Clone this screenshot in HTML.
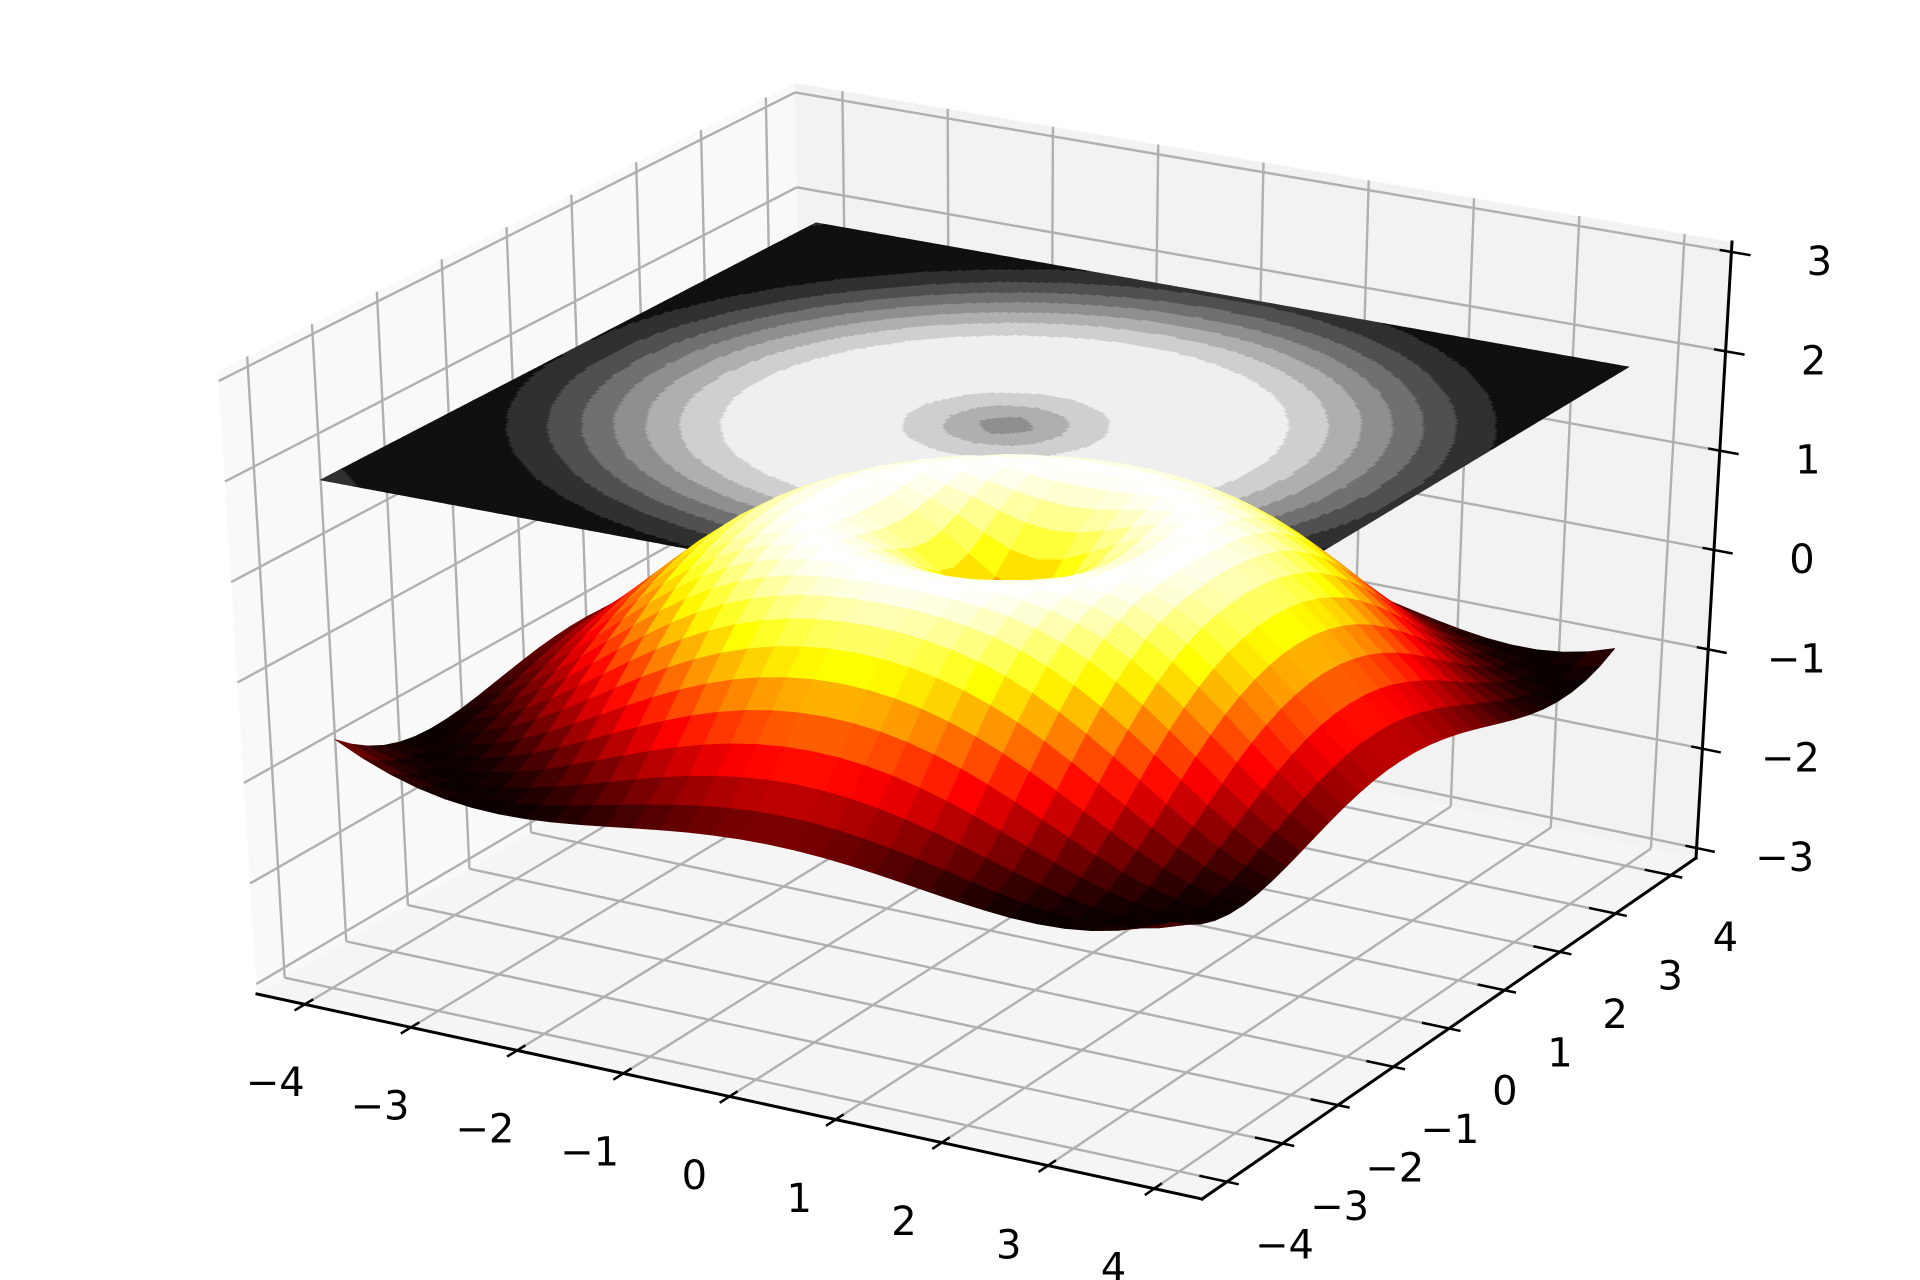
<!DOCTYPE html>
<html><head><meta charset="utf-8">
<style>
html,body{margin:0;padding:0;background:#fff;}
svg{display:block;}
text{font-family:"DejaVu Sans","Liberation Sans",sans-serif;font-size:40px;fill:#000;}
</style></head>
<body>
<svg id="chart" width="1920" height="1280" viewBox="0 0 1920 1280" xmlns="http://www.w3.org/2000/svg">
<g id="panes"></g>
<g id="grid"></g>
<g id="axes"></g>
<g id="contour" transform="translate(17,4)"></g>
<g id="surface" transform="translate(17,4)"></g>
</svg>
<script>
// ---- data ----
const xValues = [-4,-3.75,-3.5,-3.25,-3,-2.75,-2.5,-2.25,-2,-1.75,-1.5,-1.25,-1,-0.75,-0.5,-0.25,0,0.25,0.5,0.75,1,1.25,1.5,1.75,2,2.25,2.5,2.75,3,3.25,3.5,3.75];
const yValues = [-4,-3.75,-3.5,-3.25,-3,-2.75,-2.5,-2.25,-2,-1.75,-1.5,-1.25,-1,-0.75,-0.5,-0.25,0,0.25,0.5,0.75,1,1.25,1.5,1.75,2,2.25,2.5,2.75,3,3.25,3.5,3.75];
const contourOffset = 2;
const contourLevels = [-1,-0.75,-0.5,-0.25,0,0.25,0.5,0.75,1];
const xTicks = [-4,-3,-2,-1,0,1,2,3,4];
const yTicks = [-4,-3,-2,-1,0,1,2,3,4];
const zTicks = [-3,-2,-1,0,1,2,3];
const xTickLabels = ["−4","−3","−2","−1","0","1","2","3","4"];
const yTickLabels = ["−4","−3","−2","−1","0","1","2","3","4"];
const zTickLabels = ["−3","−2","−1","0","1","2","3"];
const xLim = [-4.45, 4.45];
const yLim = [-4.45, 4.45];
const zLim = [-3.1, 3.1];

// z grid: Z = sin(sqrt(X^2 + Y^2))
const zValues = yValues.map(y => xValues.map(x => Math.sin(Math.sqrt(x*x + y*y))));

// ---- projection (box corners in screen pixels) ----
const C = {
 '000':[257,994], '100':[1202,1199], '110':[1696,858], '010':[805,671],
 '001':[218,371], '101':[1211,551], '111':[1732,242], '011':[795,83]
};
function lerp(a,b,t){return [a[0]+(b[0]-a[0])*t, a[1]+(b[1]-a[1])*t];}
function norm3(x,y,z){
  return [(x-xLim[0])/(xLim[1]-xLim[0]), (y-yLim[0])/(yLim[1]-yLim[0]), (z-zLim[0])/(zLim[1]-zLim[0])];
}
function P(x,y,z){
  const [u,v,w] = norm3(x,y,z);
  const a00 = lerp(C['000'],C['100'],u), a10 = lerp(C['010'],C['110'],u);
  const a01 = lerp(C['001'],C['101'],u), a11 = lerp(C['011'],C['111'],u);
  const b0 = lerp(a00,a10,v), b1 = lerp(a01,a11,v);
  return lerp(b0,b1,w);
}
const eye = [0.433,-0.75,0.5];
function depth(x,y,z){const n=norm3(x,y,z);return (n[0]-.5)*eye[0]+(n[1]-.5)*eye[1]+(n[2]-.5)*eye[2];}

const NS = 'http://www.w3.org/2000/svg';
function mk(tag, attrs, parent){
  const e = document.createElementNS(NS, tag);
  for (const k in attrs) e.setAttribute(k, attrs[k]);
  parent.appendChild(e); return e;
}
function pts(arr){return arr.map(p=>p[0].toFixed(2)+','+p[1].toFixed(2)).join(' ');}

const [x0,x1]=xLim,[y0,y1]=yLim,[z0,z1]=zLim;

// ---- panes ----
const panes = document.getElementById('panes');
let pn;
pn = mk('polygon',{points:pts([P(x0,y0,z0),P(x0,y1,z0),P(x0,y1,z1),P(x0,y0,z1)]),fill:'#f9f9f9'},panes);


pn = mk('polygon',{points:pts([P(x0,y1,z0),P(x1,y1,z0),P(x1,y1,z1),P(x0,y1,z1)]),fill:'#f2f2f2'},panes);


pn = mk('polygon',{points:pts([P(x0,y0,z0),P(x1,y0,z0),P(x1,y1,z0),P(x0,y1,z0)]),fill:'#f5f5f5'},panes);



// ---- grid ----
const grid = document.getElementById('grid');
function gline(a,b,name){
  const l = mk('line',{x1:a[0],y1:a[1],x2:b[0],y2:b[1],stroke:'#b0b0b0','stroke-width':2.4},grid);
  
  
}
xTicks.forEach(t=>{gline(P(t,y0,z0),P(t,y1,z0),'floor-gridline-x');gline(P(t,y1,z0),P(t,y1,z1),'back-gridline-x');});
yTicks.forEach(t=>{gline(P(x0,t,z0),P(x1,t,z0),'floor-gridline-y');gline(P(x0,t,z0),P(x0,t,z1),'side-gridline-y');});
zTicks.forEach(t=>{gline(P(x0,y0,t),P(x0,y1,t),'side-gridline-z');gline(P(x0,y1,t),P(x1,y1,t),'back-gridline-z');});

// ---- axes ----
const axes = document.getElementById('axes');
function aline(a,b,name,w){
  const l = mk('line',{x1:a[0],y1:a[1],x2:b[0],y2:b[1],stroke:'#000','stroke-width':w,'stroke-linecap':'square'},axes);
  
  
}
function label(p,txt,name){
  const t = mk('text',{x:p[0].toFixed(1),y:p[1].toFixed(1),'text-anchor':'middle','dominant-baseline':'central'},axes);
  t.textContent = txt;
  
  
}
aline(P(x0,y0,z0),P(x1,y0,z0),'x-axis-line',3);
aline(P(x1,y0,z0),P(x1,y1,z0),'y-axis-line',3);
aline(P(x1,y1,z0),P(x1,y1,z1),'z-axis-line',3);
xTicks.forEach((t,i)=>{
  aline(P(t,y0-0.15,z0),P(t,y0+0.12,z0),'x-tick',2.5);
  const f=(t-x0)/(x1-x0);
  const p=P(t,y0-0.6,z0); label([p[0]+8-f*16,p[1]+57],xTickLabels[i],'x-tick-label');
});
yTicks.forEach((t,i)=>{
  aline(P(x1-0.25,t,z0),P(x1+0.1,t,z0),'y-tick',2.5);
  const p=P(x1+0.6,t,z0); label([p[0]-6,p[1]+50],yTickLabels[i],'y-tick-label');
});
zTicks.forEach((t,i)=>{
  aline(P(x1-0.1,y1,t),P(x1+0.17,y1,t),'z-tick',2.5);
  const p=P(x1,y1,t); label([p[0]+88,p[1]+10],zTickLabels[i],'z-tick-label');
});

// ---- contour plane (filled, gray) ----
const contour = document.getElementById('contour');
const nb = contourLevels.length-1;
const bandPaths = Array.from({length:nb},()=>[]);
const SUB = 8;
function bandOf(z){
  let k = Math.floor((z-contourLevels[0])/(contourLevels[nb]-contourLevels[0])*nb);
  return Math.max(0,Math.min(nb-1,k));
}
for(let j=0;j<yValues.length-1;j++){
  for(let i=0;i<xValues.length-1;i++){
    const za=zValues[j][i], zb=zValues[j][i+1], zc=zValues[j+1][i], zd=zValues[j+1][i+1];
    const xa=xValues[i], xb=xValues[i+1], ya=yValues[j], yb=yValues[j+1];
    for(let s=0;s<SUB;s++)for(let r=0;r<SUB;r++){
      const u=(s+.5)/SUB, v=(r+.5)/SUB;
      const z=za*(1-u)*(1-v)+zb*u*(1-v)+zc*(1-u)*v+zd*u*v;
      const k=bandOf(z);
      const sx0=xa+(xb-xa)*s/SUB, sx1=xa+(xb-xa)*(s+1)/SUB;
      const sy0=ya+(yb-ya)*r/SUB, sy1=ya+(yb-ya)*(r+1)/SUB;
      const q=[P(sx0,sy0,contourOffset),P(sx1,sy0,contourOffset),P(sx1,sy1,contourOffset),P(sx0,sy1,contourOffset)];
      bandPaths[k].push('M'+q.map(p=>p[0].toFixed(1)+' '+p[1].toFixed(1)).join('L')+'Z');
    }
  }
}
bandPaths.forEach((d,k)=>{
  if(!d.length) return;
  const g = Math.round((k+0.5)/nb*255);
  const col = 'rgb('+g+','+g+','+g+')';
  const p = mk('path',{d:d.join(''),fill:col,stroke:col,'stroke-width':0.8},contour);
  
  
});

// ---- surface (hot colormap) ----
const surface = document.getElementById('surface');
function hot(t){
  const r=Math.min(1,0.0416+(1-0.0416)*t/0.365079);
  const g=Math.max(0,Math.min(1,(t-0.365079)/(0.746032-0.365079)));
  const b=Math.max(0,Math.min(1,(t-0.746032)/(1-0.746032)));
  return 'rgb('+Math.round(r*255)+','+Math.round(g*255)+','+Math.round(b*255)+')';
}
const faces=[];
let fmin=Infinity,fmax=-Infinity;
for(let j=0;j<yValues.length-1;j++){
  for(let i=0;i<xValues.length-1;i++){
    const za=zValues[j][i], zb=zValues[j][i+1], zc=zValues[j+1][i], zd=zValues[j+1][i+1];
    const avg=(za+zb+zc+zd)/4;
    fmin=Math.min(fmin,avg); fmax=Math.max(fmax,avg);
    const xm=(xValues[i]+xValues[i+1])/2, ym=(yValues[j]+yValues[j+1])/2;
    faces.push({avg, d:depth(xm,ym,avg),
      q:[P(xValues[i],yValues[j],za),P(xValues[i+1],yValues[j],zb),P(xValues[i+1],yValues[j+1],zd),P(xValues[i],yValues[j+1],zc)]});
  }
}
faces.sort((a,b)=>a.d-b.d);
faces.forEach(f=>{
  const col=hot((f.avg-fmin)/(fmax-fmin));
  const p=mk('polygon',{points:pts(f.q),fill:col,stroke:col,'stroke-width':0.6,'stroke-linejoin':'round'},surface);
  
  
});
</script>
</body></html>
